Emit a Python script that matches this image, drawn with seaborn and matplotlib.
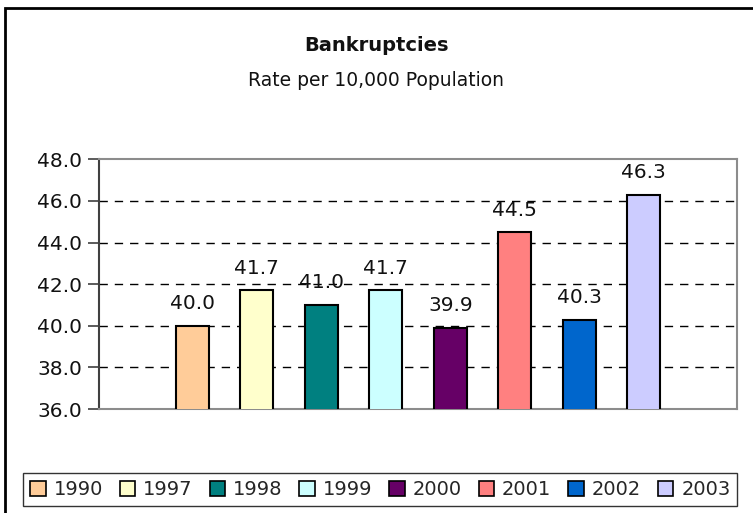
import matplotlib
matplotlib.use("Agg")
import matplotlib.pyplot as plt
from matplotlib.patches import Patch, Rectangle
import seaborn as sns
import pandas as pd

# data
years = ['1990', '1997', '1998', '1999', '2000', '2001', '2002', '2003']
rates = [40.0, 41.7, 41.0, 41.7, 39.9, 44.5, 40.3, 46.3]
colors = ['#FFCC99', '#FFFFCC', '#008080', '#CCFFFF', '#660066', '#FF8080', '#0066CC', '#CCCCFF']
yticks = [36.0, 38.0, 40.0, 42.0, 44.0, 46.0, 48.0]

df = pd.DataFrame({'year': years, 'rate': rates})

sns.set_theme(style="white")
plt.rcParams['font.family'] = ['DejaVu Sans']

fig = plt.figure(figsize=(7.53, 5.13), dpi=100)
ax = fig.add_axes([0.1315, 0.2027, 0.8473, 0.4868])

sns.barplot(data=df, x='year', y='rate', hue='year', palette=colors,
            saturation=1, dodge=False, width=0.51, edgecolor='black',
            linewidth=1.5, legend=False, ax=ax, zorder=3)

# value labels above each bar
for cont in ax.containers:
    ax.bar_label(cont, fmt='%.1f', padding=9, fontsize=14.5, color='#111111')

ax.set_ylim(36, 48)
ax.set_xlim(-1.45, 8.45)
ax.set_yticks(yticks)
ax.set_yticklabels([f'{t:.1f}' for t in yticks], fontsize=14.5, color='#111111')
ax.set_xticks([])
ax.set_xlabel('')
ax.set_ylabel('')

# dashed gridlines (not at top/bottom)
for t in yticks[1:-1]:
    ax.axhline(t, color='black', linestyle=(0, (6, 5)), linewidth=1, zorder=1)

ax.tick_params(axis='y', which='major', direction='out', length=8, width=1.2,
               color='#404040', pad=4, left=True)
for side in ['top', 'right', 'bottom']:
    ax.spines[side].set_color('#8c8c8c')
    ax.spines[side].set_linewidth(1.5)
ax.spines['left'].set_color('#404040')
ax.spines['left'].set_linewidth(1.5)

# titles
fig.text(0.5, 0.912, 'Bankruptcies', ha='center', va='center',
         fontsize=14, fontweight='semibold', color='#111111')
fig.text(0.5, 0.844, 'Rate per 10,000 Population', ha='center', va='center',
         fontsize=13.5, color='#111111')

# legend at the bottom in a box
handles = [Patch(facecolor=c, edgecolor='black', linewidth=1.2) for c in colors]
leg = fig.legend(handles, years, loc='lower left', ncol=8,
                 bbox_to_anchor=(0.031, 0.014, 0.948, 0.085), mode='expand',
                 fontsize=14, frameon=True, fancybox=False, handlelength=0.8,
                 handleheight=0.8, handletextpad=0.4, columnspacing=0.6,
                 borderaxespad=0, borderpad=0.35)
leg.get_frame().set_edgecolor('black')
leg.get_frame().set_linewidth(1.0)

# outer chart border (runs off right/bottom edges like the reference)
fig.patches.append(Rectangle((5 / 753, -0.05), 1.2, 1 - 8 / 513 + 0.05,
                             transform=fig.transFigure, fill=False,
                             edgecolor='black', linewidth=2))

fig.savefig('out.png', dpi=100)
